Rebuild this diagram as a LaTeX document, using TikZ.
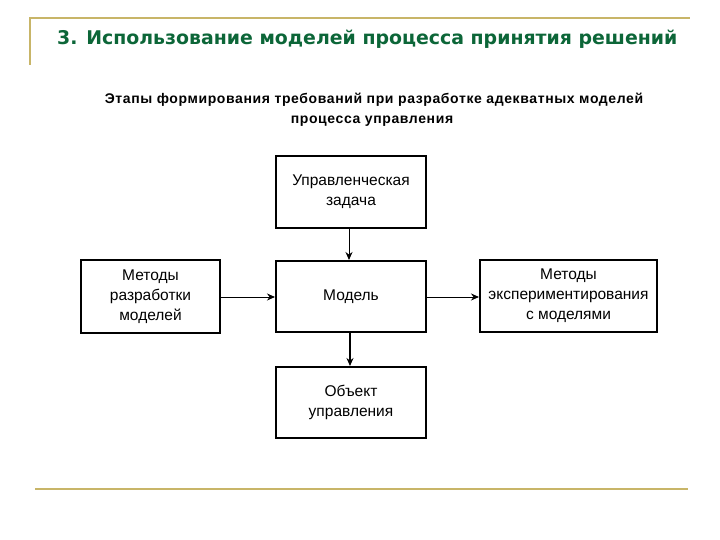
\documentclass[tikz,border=0pt]{standalone}
\usepackage{fontspec}
\setmainfont{Liberation Sans}
\newfontfamily\titlefont{DejaVu Sans}
\newfontfamily\subfont[LetterSpace=4.4]{Liberation Sans}
\usetikzlibrary{arrows.meta}
\definecolor{gold}{RGB}{200,181,104}
\definecolor{titlegreen}{RGB}{12,102,56}
\begin{document}
\begin{tikzpicture}[x=1pt,y=-1pt,
  blk/.style={draw=black,line width=2pt,rectangle,align=center,inner sep=2pt,
    font=\fontsize{15.5}{20}\selectfont},
  conn/.style={line width=1pt,-{Stealth[length=8pt,width=7pt]}},
  goldline/.style={draw=gold,line width=2.2pt}]
\useasboundingbox (0,0) rectangle (720,540);
\fill[white] (0,0) rectangle (720,540);
% decorative lines
\coordinate (tl) at (30,18);
\coordinate (tr) at (690,18);
\coordinate (tb) at (30,65);
\draw[goldline] (tb) -- (tl) -- (tr);
\coordinate (bl) at (35,489);
\coordinate (br) at (688,489);
\draw[goldline] (bl) -- (br);
% title
\node[anchor=base west,inner sep=0pt,text=titlegreen,font=\titlefont\bfseries\fontsize{18.9}{22}\selectfont] (title) at (57,45) {3. Использование моделей процесса принятия решений};
\node[anchor=base,inner sep=0pt,font=\subfont\bfseries\fontsize{14}{16}\selectfont] (sub1) at (374,104) {Этапы формирования требований при разработке адекватных моделей};
\node[anchor=base,inner sep=0pt,font=\subfont\bfseries\fontsize{14}{16}\selectfont] (sub2) at (372,124) {процесса управления};
% boxes
\node[blk,minimum width=150pt,minimum height=72pt] (task) at (351,192) {Управленческая\\задача};
\node[blk,minimum width=150pt,minimum height=71pt] (model) at (351,296.5) {Модель};
\node[blk,minimum width=139pt,minimum height=73pt] (dev) at (150.5,296.5) {Методы\\разработки\\моделей};
\node[blk,minimum width=177pt,minimum height=72pt] (exp) at (568.5,296) {Методы\\экспериментирования\\с моделями};
\node[blk,minimum width=150pt,minimum height=71pt] (obj) at (351,402.5) {Объект\\управления};
% connectors
\draw[conn] (task.south -| 349,0) -- (model.north -| 349,0);
\draw[conn] (dev.east |- 0,297) -- (model.west |- 0,297);
\draw[conn] (model.east |- 0,297) -- (exp.west |- 0,297);
\draw[conn,line width=1.8pt,-{Stealth[length=8pt,width=7pt]}] (model.south -| 350,0) -- (obj.north -| 350,0);
\end{tikzpicture}
\end{document}
